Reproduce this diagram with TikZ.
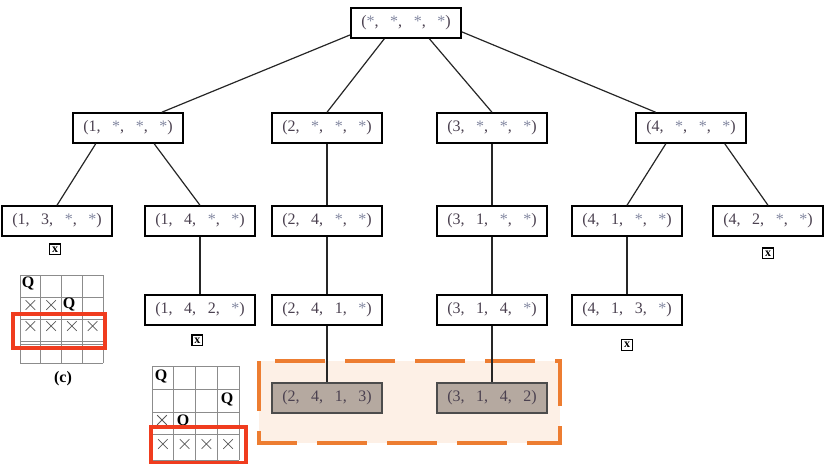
\documentclass[tikz,border=0pt]{standalone}
\usepackage{fontspec}
\setmainfont{Liberation Serif}
\usetikzlibrary{positioning}
\definecolor{txtgray}{RGB}{75,65,80}
\definecolor{stargray}{RGB}{130,135,160}
\definecolor{hlorange}{RGB}{237,125,49}
\definecolor{hlfill}{RGB}{253,240,230}
\definecolor{solfill}{RGB}{181,169,160}
\definecolor{boardred}{RGB}{240,60,30}
\newcommand\sep{,\hspace{0.72em}}
\newcommand\st{{\color{stargray}*}}
\newcommand\crs[2]{\draw[cross] (#1-4.8,#2-4.8) -- (#1+4.8,#2+4.8) (#1-4.8,#2+4.8) -- (#1+4.8,#2-4.8);}

\begin{document}
\begin{tikzpicture}[x=0.75pt,y=-0.75pt,
  state/.style={draw,line width=1.1pt,minimum width=82.5pt,minimum height=22.5pt,inner sep=0pt,text=txtgray,font=\fontsize{12}{14}\selectfont},
  sol/.style={state,fill=solfill,draw=black!70},
  dead/.style={draw,line width=0.9pt,inner sep=0.4pt,minimum size=8pt,font=\bfseries\fontsize{9}{9}\selectfont},
  edge/.style={line width=0.9pt,black!85},
  cell/.style={draw=black!45,line width=0.5pt},
  queen/.style={inner sep=0pt,font=\bfseries\fontsize{12}{12}\selectfont},
  cross/.style={black!65,line width=0.55pt}]
\useasboundingbox (0,0) rectangle (836,464);

% found solutions
\draw[hlorange,fill=hlfill,line width=3pt,dash pattern=on 37.5pt off 15pt] (259,361) rectangle (560,443);

% search tree
\node[state] (root) at (406,23) {(\st\sep\st\sep\st\sep\st)};
\node[state] (a1) at (128,128) {(1\sep\st\sep\st\sep\st)};
\node[state] (a2) at (327,128) {(2\sep\st\sep\st\sep\st)};
\node[state] (a3) at (492,128) {(3\sep\st\sep\st\sep\st)};
\node[state] (a4) at (691,128) {(4\sep\st\sep\st\sep\st)};
\node[state] (a13) at (57,221) {(1\sep 3\sep\st\sep\st)};
\node[state] (a14) at (200,221) {(1\sep 4\sep\st\sep\st)};
\node[state] (a24) at (327,221) {(2\sep 4\sep\st\sep\st)};
\node[state] (a31) at (492,221) {(3\sep 1\sep\st\sep\st)};
\node[state] (a41) at (627,221) {(4\sep 1\sep\st\sep\st)};
\node[state] (a42) at (768,221) {(4\sep 2\sep\st\sep\st)};
\node[state] (a142) at (200,310) {(1\sep 4\sep 2\sep\st)};
\node[state] (a241) at (327,310) {(2\sep 4\sep 1\sep\st)};
\node[state] (a314) at (492,310) {(3\sep 1\sep 4\sep\st)};
\node[state] (a413) at (627,310) {(4\sep 1\sep 3\sep\st)};
\node[sol] (a2413) at (327,398) {(2\sep 4\sep 1\sep 3)};
\node[sol] (a3142) at (492,398) {(3\sep 1\sep 4\sep 2)};

% dead ends
\node[dead,below=5pt of a13,xshift=-1.5pt] (d13) {x};
\node[dead,below=6.5pt of a142,xshift=-2pt] (d142) {x};
\node[dead,below=10pt of a413] (d413) {x};
\node[dead,below=8pt of a42] (d42) {x};

\draw[edge] (root.192) -- (a1.25);
\draw[edge] (root.216) -- (a2.north);
\draw[edge] (root.326) -- (a3.north);
\draw[edge] (root.351) -- (a4.156);
\draw[edge] (a1.206) -- (a13.north);
\draw[edge] (a1.329) -- (a14.north);
\draw[edge] (a4.212) -- (a41.north);
\draw[edge] (a4.335) -- (a42.north);
\foreach \u/\v in {a14/a142,a2/a24,a24/a241,a241/a2413,a3/a31,a31/a314,a314/a3142,a41/a413}
  \draw[edge] (\u) -- (\v);

% board (c)
\foreach \x in {20,40.75,61.5,82.25,103} \draw[cell] (\x,275) -- (\x,363);
\foreach \y in {275,297,319,341,344,363} \draw[cell] (20,\y) -- (103,\y);
\node[queen] (qc1) at (28,283) {Q};
\node[queen] (qc2) at (69,304) {Q};
\crs{30.4}{305}\crs{51.1}{305}
\foreach \x in {30.4,51.1,71.9,92.6} {\crs{\x}{326}}
\draw[boardred,line width=2.6pt] (13,314) rectangle (105,348);
\node[font=\bfseries\fontsize{12}{12}\selectfont] (capc) at (63,379) {(c)};

% board below (1, 4, 2, *)
\foreach \x in {152,173.75,195.5,217.25,239} \draw[cell] (\x,366) -- (\x,460);
\foreach \y in {366,389,412,434,460} \draw[cell] (152,\y) -- (239,\y);
\node[queen] (qd1) at (161,376) {Q};
\node[queen] (qd2) at (227,399) {Q};
\node[queen] (qd3) at (183,421) {Q};
\crs{162}{420}
\foreach \x in {162.9,184.6,206.4,228.1} {\crs{\x}{444}}
\draw[boardred,line width=2.6pt] (151,427) rectangle (246,462.5);
\end{tikzpicture}
\end{document}
